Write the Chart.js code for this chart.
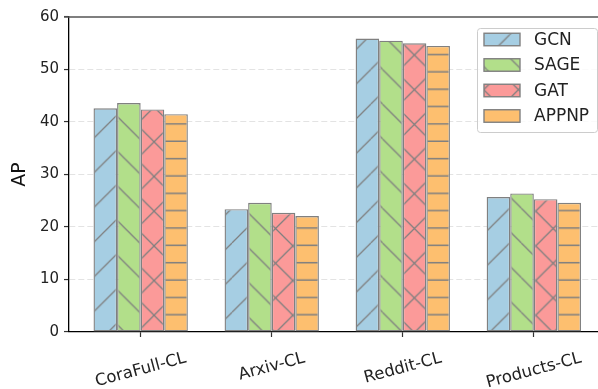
<!DOCTYPE html>
<html>
<head>
<meta charset="utf-8">
<script src="https://cdn.jsdelivr.net/npm/chart.js@4"></script>
<style>
  html, body { margin: 0; padding: 0; background: #fff; overflow: hidden; }
  #wrap { width: 612px; height: 389px; }
</style>
</head>
<body>
<div id="wrap"><canvas id="chart"></canvas></div>
<script>
// data
const categories = ["CoraFull-CL", "Arxiv-CL", "Reddit-CL", "Products-CL"];
const methods = ["GCN", "SAGE", "GAT", "APPNP"];
const gcn = [42.6, 23.4, 55.9, 25.7];
const sage = [43.6, 24.6, 55.5, 26.4];
const gat = [42.4, 22.7, 55.0, 25.3];
const appnp = [41.5, 22.1, 54.5, 24.6];
const yTicks = [0, 10, 20, 30, 40, 50, 60];

const fills = ["#a6cee3", "#b2df8a", "#fb9a99", "#fdbf6f"];
const hatches = ["/", "\\", "x", "-"];
const edge = "#808080";
Chart.defaults.font.family = "DejaVu Sans";

// hatch tiles, anchored to the canvas like matplotlib does
const period = 34.7;
const phase = { "/": [23.8, 0], "\\": [0.8, 0], "x": [15.25, 2.95], "-": [0, 11.1] };

function makeHatch(color, kind) {
    const n = 35;
    const c = document.createElement("canvas");
    c.width = n;
    c.height = n;
    const g = c.getContext("2d");
    g.fillStyle = color;
    g.fillRect(0, 0, n, n);
    g.strokeStyle = edge;
    g.lineWidth = 1.3;
    g.beginPath();
    if (kind === "/" || kind === "x") {
        for (const k of [-n, 0, n]) { g.moveTo(k, n); g.lineTo(k + n, 0); }
    }
    if (kind === "\\" || kind === "x") {
        for (const k of [-n, 0, n]) { g.moveTo(k, 0); g.lineTo(k + n, n); }
    }
    if (kind === "-") {
        g.moveTo(0, n / 4); g.lineTo(n, n / 4);
        g.moveTo(0, 3 * n / 4); g.lineTo(n, 3 * n / 4);
    }
    g.stroke();
    const p = g.createPattern(c, "repeat");
    const s = period / n;
    const [tx, ty] = phase[kind];
    p.setTransform(new DOMMatrix([s, 0, 0, s, tx, ty]));
    return p;
}

const patterns = fills.map((f, i) => makeHatch(f, hatches[i]));

const extras = {
    id: "extras",
    afterDraw(chart) {
        const ctx = chart.ctx;
        const area = chart.chartArea;
        const xs = chart.scales.x;
        ctx.save();

        // top spine
        ctx.strokeStyle = "#555";
        ctx.lineWidth = 1.5;
        ctx.beginPath();
        ctx.moveTo(area.left - 5, area.top);
        ctx.lineTo(area.right, area.top);
        ctx.stroke();

        // rotated category labels, centred under the ticks
        const rot = 15 * Math.PI / 180;
        ctx.font = "16.5px 'DejaVu Sans'";
        ctx.fillStyle = "#222";
        ctx.textAlign = "center";
        ctx.textBaseline = "middle";
        categories.forEach((name, i) => {
            const x = xs.getPixelForValue(i);
            const w = ctx.measureText(name).width;
            const y = area.bottom + 20 + (w * Math.sin(rot) + 12.5 * Math.cos(rot)) / 2;
            ctx.save();
            ctx.translate(x, y);
            ctx.rotate(-rot);
            ctx.fillText(name, 0, 0);
            ctx.restore();
        });

        // legend box
        const bw = 120, bh = 104;
        const bx = area.right - 8 - bw;
        const by = area.top + 11.5;
        ctx.beginPath();
        ctx.roundRect(bx, by, bw, bh, 3);
        ctx.fillStyle = "rgba(255,255,255,0.8)";
        ctx.fill();
        ctx.strokeStyle = "#cccccc";
        ctx.lineWidth = 1;
        ctx.stroke();

        ctx.font = "17px 'DejaVu Sans'";
        ctx.textAlign = "left";
        methods.forEach((m, i) => {
            const cy = by + 11 + i * 25.5;
            ctx.fillStyle = patterns[i];
            ctx.fillRect(bx + 6.5, cy - 6.25, 36, 12.5);
            ctx.strokeStyle = edge;
            ctx.lineWidth = 1.4;
            ctx.strokeRect(bx + 6.5, cy - 6.25, 36, 12.5);
            ctx.fillStyle = "#222";
            ctx.fillText(m, bx + 56.5, cy + 1);
        });
        ctx.restore();
    }
};

new Chart(document.getElementById("chart"), {
    type: "bar",
    data: {
        datasets: [gcn, sage, gat, appnp].map((vals, i) => ({
            label: methods[i],
            data: vals.map((v, j) => ({ x: j, y: v })),
            backgroundColor: patterns[i],
            borderColor: edge,
            borderWidth: 1.4,
            borderSkipped: false,
        })),
    },
    options: {
        responsive: true,
        maintainAspectRatio: false,
        animation: false,
        layout: { padding: { top: 17, right: 6.5, bottom: 0, left: 0 } },
        datasets: { bar: { categoryPercentage: 0.72, barPercentage: 1 } },
        plugins: {
            legend: { display: false },
            tooltip: { enabled: false },
        },
        scales: {
            x: {
                type: "linear",
                offset: false,
                min: -0.547,
                max: 3.547,
                afterBuildTicks: (s) => { s.ticks = categories.map((_, i) => ({ value: i })); },
                afterFit: (s) => { s.height = 57; },
                ticks: { display: false },
                grid: { offset: false, drawOnChartArea: false, tickLength: 5, tickColor: "#333", tickWidth: 1.2 },
                border: { color: "#000", width: 1.3 },
            },
            y: {
                min: 0,
                max: 60,
                afterBuildTicks: (s) => { s.ticks = yTicks.map((v) => ({ value: v })); },
                afterFit: (s) => { s.width = 69; },
                ticks: { font: { size: 15 }, color: "#222", padding: 5 },
                grid: {
                    color: (c) => (c.tick && (c.tick.value === 0 || c.tick.value === 60)) ? "rgba(0,0,0,0)" : "#e3e3e3",
                    lineWidth: 1.1,
                    tickLength: 5,
                    tickColor: "#333",
                    tickWidth: 1.2,
                },
                border: { color: "#000", width: 1.3, dash: [6, 3] },
                title: { display: true, text: "AP", font: { size: 19 }, color: "#111", padding: { top: 8.6, bottom: 0 } },
            },
        },
    },
    plugins: [extras],
});
</script>
</body>
</html>
